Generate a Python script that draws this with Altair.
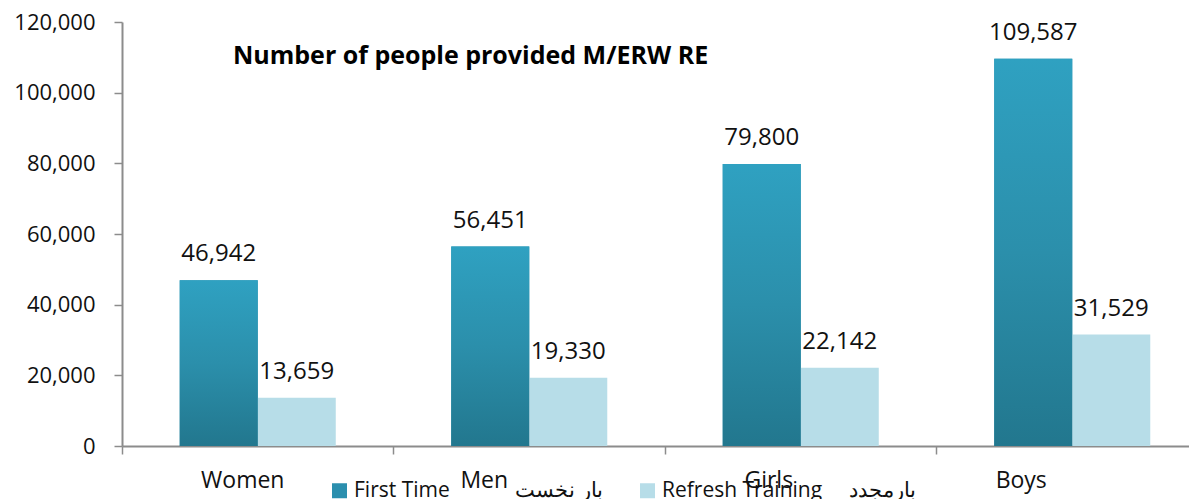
import altair as alt
import pandas as pd

categories = ["Women", "Men", "Girls", "Boys"]
series = ["First Time", "Refresh Training"]
first_time = [46942, 56451, 79800, 109587]
refresh = [13659, 19330, 22142, 31529]
legend_labels = {
    "First Time": "First Time" + "\u00a0" * 12 + "بار نخست",
    "Refresh Training": "Refresh Training" + "\u00a0" * 5 + "بارمجدد",
}

rows = []
for c, a, b in zip(categories, first_time, refresh):
    rows.append({"category": c, "series": series[0], "value": a})
    rows.append({"category": c, "series": series[1], "value": b})
df = pd.DataFrame(rows)

FONT = "Open Sans"
label_expr = "datum.value == '%s' ? '%s' : '%s'" % (
    series[0], legend_labels[series[0]], legend_labels[series[1]])

x_enc = alt.X(
    "category:N", sort=categories, title=None,
    scale=alt.Scale(paddingInner=0, paddingOuter=0, range=[0, 1086]),
    axis=alt.Axis(
        bandPosition=0, labelAngle=0, labelFont=FONT, labelFontSize=23,
        labelColor="#111111", tickSize=8, tickColor="#8c8c8c",
        domainColor="#8c8c8c", domainWidth=2, tickWidth=1.5, labelPadding=15,
        labelOffset={"expr": "datum.value == 'Women' ? -15 : datum.value == 'Men' ? -45 : datum.value == 'Girls' ? -32 : -51"},
    ),
)
xo_enc = alt.XOffset("series:N", sort=series,
                     scale=alt.Scale(paddingInner=0, paddingOuter=0.74))
y_enc = alt.Y(
    "value:Q", title=None,
    scale=alt.Scale(domain=[0, 120000], nice=False),
    axis=alt.Axis(
        values=[0, 20000, 40000, 60000, 80000, 100000, 120000],
        labelExpr="format(datum.value, ',')",
        grid=False, labelFont=FONT, labelFontSize=22, labelColor="#111111",
        tickSize=8, tickColor="#8c8c8c", domainColor="#8c8c8c", domainWidth=2,
        tickWidth=1.5, labelPadding=19,
    ),
)

bars = alt.Chart(df).mark_bar().encode(
    x=x_enc, xOffset=xo_enc, y=y_enc,
    color=alt.Color(
        "series:N", sort=series,
        scale=alt.Scale(domain=series, range=["#2b8fae", "#b7dde8"]),
        legend=alt.Legend(
            orient="none", legendX=207, legendY=458, direction="horizontal",
            title=None, symbolType="square", symbolSize=225, symbolStrokeWidth=0,
            labelFont=FONT, labelFontSize=21, labelColor="#111111",
            labelLimit=500, columnPadding=34, labelExpr=label_expr,
        ),
    ),
)

grad = alt.Gradient(
    gradient="linear",
    stops=[alt.GradientStop(color="#2fa1c1", offset=0),
           alt.GradientStop(color="#2b8fab", offset=0.5),
           alt.GradientStop(color="#22778e", offset=1)],
    x1=0, x2=0, y1=0, y2=1,
)
grad_bars = alt.Chart(df).transform_filter(
    alt.datum.series == series[0]
).mark_bar(fill=grad).encode(x=x_enc, xOffset=xo_enc, y=y_enc)

labels = alt.Chart(df).mark_text(
    baseline="bottom", dy=-14, font=FONT, fontSize=24, color="#111111"
).encode(x=x_enc, xOffset=xo_enc, y=y_enc, text=alt.Text("value:Q", format=","))

chart = alt.layer(bars, grad_bars, labels).properties(
    width=1067, height=424,
    autosize=alt.AutoSizeParams(type="none"),
    padding={"left": 114, "top": 14, "right": 0, "bottom": 53},
    title=alt.TitleParams(
        "Number of people provided M/ERW RE", anchor="start", frame="group",
        font=FONT, fontSize=25, fontWeight="bold", color="#000000",
        dx=111, dy=58, offset=0,
    ),
).configure_view(stroke=None)

chart.save("out.html", embed_options={"renderer": "svg", "actions": False})
